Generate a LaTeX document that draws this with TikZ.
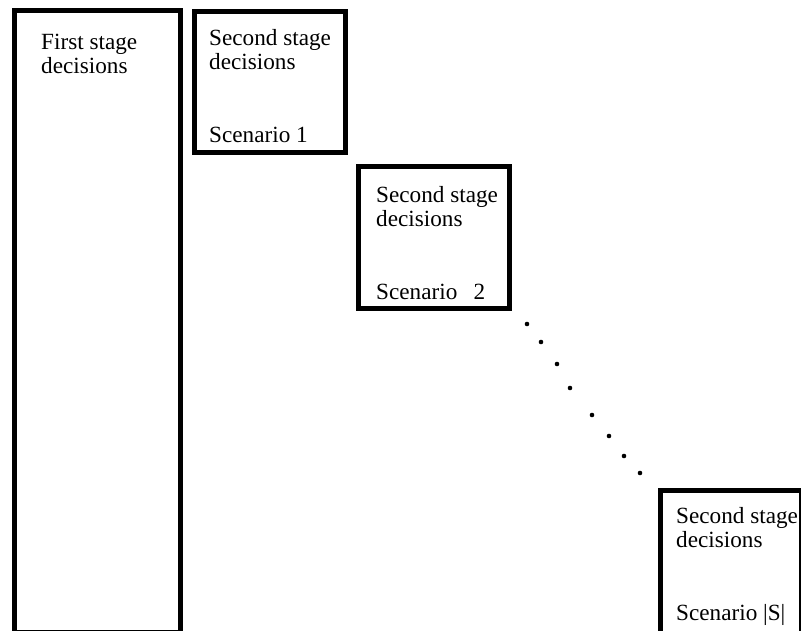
\documentclass[tikz,border=0pt]{standalone}
\usepackage{fontspec}
\setmainfont{Liberation Serif}
\usetikzlibrary{positioning}

\newcommand{\boxlw}{5pt}
\newcommand{\txtfont}{\fontsize{23.2}{24}\selectfont}
\newcommand{\stbox}{\node[draw, line width=\boxlw, anchor=north west, inner sep=0pt]}
\newcommand{\stxt}{\node[anchor=north west, inner sep=0pt, align=left, font=\txtfont]}
\newcommand{\scn}{\node[anchor=base west, inner sep=0pt, font=\txtfont]}

\begin{document}
\begin{tikzpicture}[x=1pt, y=-1pt]
            \useasboundingbox (0,0) rectangle (801,631);

            \stbox[minimum width=166pt, minimum height=621.5pt] (b1) at (12, 8) {};
            \stbox[minimum width=151pt, minimum height=141pt] (b2) at (192, 9) {};
            \stbox[minimum width=151pt, minimum height=142pt] (b3) at (356, 164) {};
            \stbox[minimum width=141pt, minimum height=147pt] (b4) at (658, 488) {};

            \stxt (t1) at (41, 34) {First stage\\decisions};
            \stxt (t2) at (209, 29) {Second stage\\decisions};
            \stxt (t3) at (376, 186) {Second stage\\decisions};
            \stxt (t4) at (676, 507) {Second stage\\decisions};

            \scn (s2) at (209, 143) {Scenario 1};
            \scn (s3) at (376, 300) {Scenario\hspace{0.7em}2};
            \scn (s4) at (676, 620) {Scenario |S|};

            % dots between scenario 2 and |S|
            \foreach \px/\py in {527/324, 541/342, 557/364, 570/388, 592/415, 609/436, 624/456, 640/473}
                \fill (\px, \py) circle (2.3);
        \end{tikzpicture}
\end{document}
